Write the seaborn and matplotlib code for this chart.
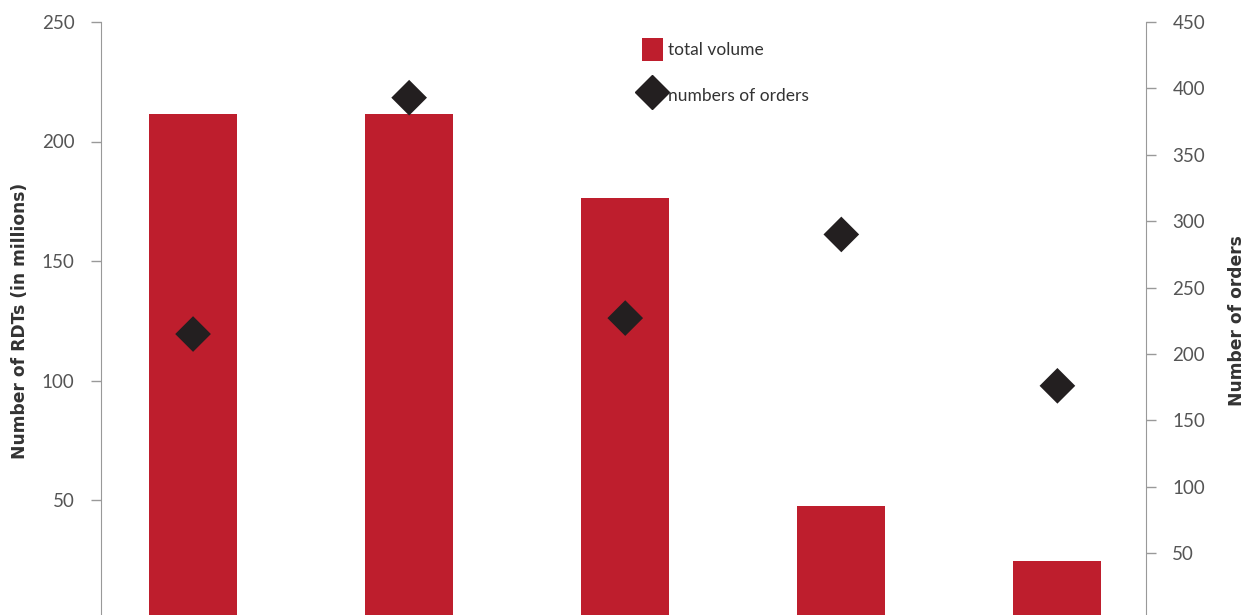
import matplotlib
matplotlib.use("Agg")
import matplotlib.pyplot as plt
import seaborn as sns
import pandas as pd
from matplotlib.lines import Line2D
from matplotlib.patches import Patch

categories = ["1", "2", "3", "4", "5"]
total_volume = [211.5, 211.5, 176.5, 47.5, 24.5]
orders = [215, 393, 227, 290, 176]
left_ticks = [50, 100, 150, 200, 250]
right_ticks = [50, 100, 150, 200, 250, 300, 350, 400, 450]

sns.set_style("white")
plt.rcParams["font.family"] = ["Lato", "DejaVu Sans"]

RED = "#BE1E2D"
DARK = "#231F20"
GRAY = "#555555"

W, H = 1246, 615
fig = plt.figure(figsize=(W / 100, H / 100), dpi=100)
ax = fig.add_axes([101 / W, 1 - 619.5 / H, (1146 - 101) / W, (619.5 - 22) / H])

df = pd.DataFrame({"cat": categories, "vol": total_volume, "ord": orders})
sns.barplot(data=df, x="cat", y="vol", color=RED, width=0.407, ax=ax,
            saturation=1, edgecolor="none")
ax.set_xlim(-0.426, 4.41)
ax.set_ylim(0, 250)
ax.set_yticks(left_ticks)
ax.set_xticks([])
ax.set_xlabel("")
ax.set_ylabel("Number of RDTs (in millions)", fontsize=12.3, fontweight="bold",
              color="#333333", family="DejaVu Sans")
ax.yaxis.set_label_coords(-0.0685, 0.5)

ax2 = ax.twinx()
sns.scatterplot(data=df, x="cat", y="ord", marker="D", s=330, color=DARK,
                edgecolor="none", ax=ax2, legend=False)
ax2.set_xlim(-0.426, 4.41)
ax2.set_ylim(0, 450)
ax2.set_yticks(right_ticks)
ax2.set_xticks([])
ax2.set_xlabel("")
ax2.set_ylabel("Number of orders", fontsize=12.3, fontweight="bold",
               color="#333333", family="DejaVu Sans")
ax2.yaxis.set_label_coords(1.0785, 0.5)

for a in (ax, ax2):
    for s in ("top", "bottom", "left", "right"):
        a.spines[s].set_visible(False)
    a.tick_params(axis="y", length=7, width=1, color="#999999", labelcolor=GRAY,
                  labelsize=13.5, pad=12)
    a.grid(False)
ax.spines["left"].set_visible(True)
ax.spines["left"].set_color("#999999")
ax2.spines["right"].set_visible(True)
ax2.spines["right"].set_color("#999999")
ax.tick_params(axis="y", left=True, right=False)
ax2.tick_params(axis="y", left=False, right=True, direction="out")

handles = [
    Patch(facecolor=RED, edgecolor="none", label="total volume"),
    Line2D([], [], marker="D", linestyle="none", color=DARK, markersize=17,
           label="numbers of orders"),
]
fig.legend(handles=handles, loc="upper left", bbox_to_anchor=(633 / W, 1 - 29 / H),
           frameon=False, fontsize=12.5, labelcolor="#333333", handlelength=1.2,
           handleheight=1.7, handletextpad=0.3, labelspacing=1.3, borderpad=0)

fig.savefig("out.png", dpi=100)
